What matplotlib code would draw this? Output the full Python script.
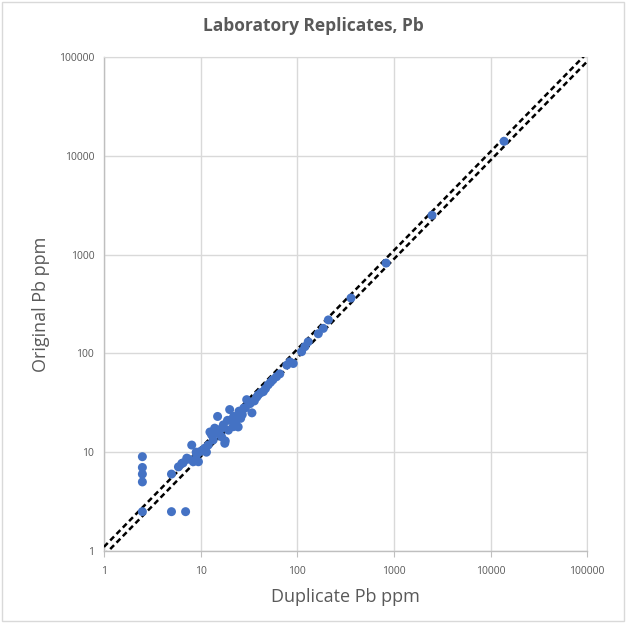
import matplotlib
matplotlib.use("Agg")
import matplotlib.pyplot as plt
from matplotlib.ticker import FixedLocator, FuncFormatter, NullLocator
from matplotlib.patches import Rectangle

# Duplicate (x) vs original (y) Pb, ppm
duplicate_pb = [
    2.5, 2.5, 2.5, 2.5, 2.5, 5, 7,
    5, 5.9, 6.4, 6.6, 7.2, 8.1, 8.4, 8.7, 9.1, 9.5, 9.8, 10.5, 11.1, 12,
    12.5, 13.5, 14, 15, 15.2, 16.5, 17.2, 17.8, 19, 19.4, 20, 21.8, 23,
    24.5, 26, 28, 29, 30, 32.5, 34, 36, 39.5, 42, 44.6, 47, 50, 53, 56,
    61, 66, 78, 84, 91, 111, 120, 130, 165, 186, 210, 360, 830, 2480, 13800,
    7.5, 9, 11.5, 13, 16, 18, 22, 25, 27, 38, 14.5, 20.5,
]
original_pb = [
    9, 7, 6, 5, 2.5, 2.5, 2.5,
    6, 7.1, 7.7, 7.8, 8.7, 11.8, 8.0, 8.3, 9.4, 8.0, 10.1, 10.5, 11, 11.8,
    16, 13.3, 17.5, 23, 15.5, 14.3, 18.9, 12.3, 21, 16.7, 27, 18.1, 20,
    18, 22, 28, 28, 34, 31, 25, 33, 38, 40, 41, 44, 48, 51, 54,
    58, 62, 76, 82, 79, 104, 117, 131, 158, 179, 218, 363, 820, 2500, 14000,
    8.5, 10, 10, 15, 17, 13, 23, 26, 24, 36, 16.5, 21,
]

axis_min, axis_max = 1, 100000
decades = [1, 10, 100, 1000, 10000, 100000]
upper_factor = 1.1
lower_factor = 0.9

grey_text = "#595959"
grid_grey = "#D9D9D9"
point_blue = "#4472C4"

plt.rcParams["font.family"] = ["Open Sans", "DejaVu Sans"]

fig = plt.figure(figsize=(6.26, 6.23), dpi=100)
ax = fig.add_axes([0.166, 0.1156, 0.772, 0.793])

ax.set_xscale("log")
ax.set_yscale("log")
ax.set_xlim(axis_min, axis_max)
ax.set_ylim(axis_min, axis_max)

# +/- 10% reference lines
line_x = [axis_min, axis_max * 2]
ax.plot(line_x, [v * upper_factor for v in line_x], color="black",
        linestyle=(0, (2.2, 1.4)), linewidth=1.8, zorder=3)
ax.plot(line_x, [v * lower_factor for v in line_x], color="black",
        linestyle=(0, (2.2, 1.4)), linewidth=1.8, zorder=3)

ax.scatter(duplicate_pb, original_pb, s=42, color=point_blue,
           edgecolors="none", zorder=4, clip_on=False)

for axis in (ax.xaxis, ax.yaxis):
    axis.set_major_locator(FixedLocator(decades))
    axis.set_minor_locator(NullLocator())
    axis.set_major_formatter(FuncFormatter(lambda v, p: f"{int(round(v))}"))

ax.grid(True, color=grid_grey, linewidth=1.0, zorder=0)
ax.set_axisbelow(True)
for side in ("top", "right"):
    ax.spines[side].set_color(grid_grey)
for side in ("left", "bottom"):
    ax.spines[side].set_color("#BFBFBF")
    ax.spines[side].set_linewidth(1.0)
ax.tick_params(axis="both", length=0, labelsize=7.5, colors=grey_text, pad=7)
ax.tick_params(axis="x", length=4, color="#BFBFBF", direction="out")

ax.set_xlabel("Duplicate Pb ppm", fontsize=13, color=grey_text, labelpad=8)
ax.set_ylabel("Original Pb ppm", fontsize=13, color=grey_text, labelpad=6)
fig.suptitle("Laboratory Replicates, Pb", fontsize=12.5, fontweight="bold",
             color=grey_text, y=0.972)

fig.patches.append(Rectangle((0.003, 0.003), 0.994, 0.994,
                             transform=fig.transFigure, fill=False,
                             edgecolor="#D9D9D9", linewidth=1.0))

fig.savefig("out.png", dpi=100)
